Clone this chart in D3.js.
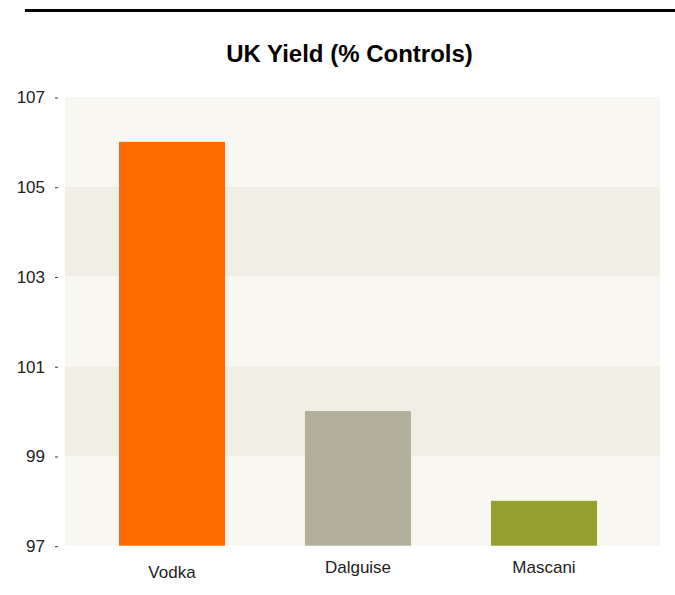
<!DOCTYPE html>
<html>
<head>
<meta charset="utf-8">
<script src="https://cdn.jsdelivr.net/npm/d3@7"></script>
<style>
  html, body { margin: 0; padding: 0; background: #fff; }
  svg { display: block; }
  text { font-family: "Liberation Sans", Arial, Helvetica, sans-serif; }
</style>
</head>
<body>
<svg id="chart" width="675" height="595"></svg>
<script>
const categories = ["Vodka", "Dalguise", "Mascani"];
const values = [106, 100, 98];
const barColors = ["#ff6b00", "#b2b09a", "#96a02e"];
const tickValues = [97, 99, 101, 103, 105, 107];
const title = "UK Yield (% Controls)";

const svg = d3.select("#chart");
const W = 675, H = 595;
const plot = { left: 65, right: 660, top: 97, bottom: 545.7 };

// top rule
svg.append("line")
  .attr("x1", 25).attr("x2", W)
  .attr("y1", 10.5).attr("y2", 10.5)
  .attr("stroke", "#000").attr("stroke-width", 3);

// title
svg.append("text")
  .attr("x", 349.5).attr("y", 62)
  .attr("text-anchor", "middle")
  .attr("font-size", 24).attr("font-weight", "bold")
  .attr("fill", "#000")
  .text(title);

const y = d3.scaleLinear().domain([97, 107]).range([plot.bottom, plot.top]);
const x = d3.scaleBand().domain(categories)
  .range([79, 637]).paddingInner(0.43).paddingOuter(0.215);

// background bands
const bands = d3.pairs(tickValues);
svg.append("g").selectAll("rect").data(bands).join("rect")
  .attr("x", plot.left)
  .attr("width", plot.right - plot.left)
  .attr("y", d => y(d[1]))
  .attr("height", d => y(d[0]) - y(d[1]))
  .attr("fill", (d, i) => (i % 2 === 0 ? "#f8f7f2" : "#f1eee6"));

// bars
svg.append("g").selectAll("rect").data(categories).join("rect")
  .attr("x", d => x(d))
  .attr("width", x.bandwidth())
  .attr("y", (d, i) => y(values[i]))
  .attr("height", (d, i) => y(97) - y(values[i]))
  .attr("fill", (d, i) => barColors[i]);

// y axis
const yAxis = svg.append("g").attr("transform", `translate(${plot.left},0)`)
  .call(d3.axisLeft(y).tickValues(tickValues).tickSize(0).tickPadding(20).tickFormat(d3.format("d")));
yAxis.select(".domain").remove();
yAxis.selectAll("text")
  .attr("font-family", "Liberation Sans, Arial, sans-serif")
  .attr("font-size", 17).attr("fill", "#222").attr("dy", "0.35em");
yAxis.selectAll(".tick").append("line")
  .attr("x1", -10).attr("x2", -7).attr("y1", 0.5).attr("y2", 0.5)
  .attr("stroke", "#333").attr("stroke-width", 1);

// x labels
svg.append("g").selectAll("text").data(categories).join("text")
  .attr("x", d => x(d) + x.bandwidth() / 2)
  .attr("y", (d, i) => (i === 0 ? 578 : 573))
  .attr("text-anchor", "middle")
  .attr("font-size", 17).attr("fill", "#222")
  .text(d => d);
</script>
</body>
</html>
